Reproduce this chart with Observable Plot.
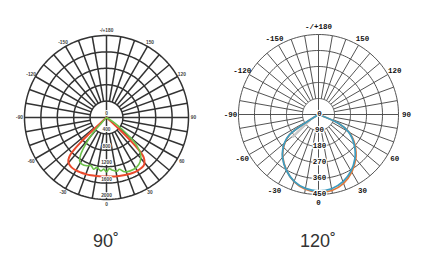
<!DOCTYPE html>
<html><head><meta charset="utf-8">
<script src="https://cdn.jsdelivr.net/npm/d3@7"></script>
<script src="https://cdn.jsdelivr.net/npm/@observablehq/plot@0.6"></script>
<style>
body{margin:0;background:#fff;}
#wrap{display:flex;width:424px;}
.panel{width:212px;}
.panel svg{display:block;}
.cap{font-family:"Liberation Sans",Arial,sans-serif;font-size:18px;line-height:18px;color:#333;text-align:center;height:25px;}
</style></head><body>
<div id="wrap"><div class="panel" id="p1"></div><div class="panel" id="p2"></div></div>
<script>
// ---- data ----
const angleTicks = [180,150,120,90,60,30,0,-30,-60,-90,-120,-150];
const angleLabels = ["-/+180","150","120","90","60","30","0","-30","-60","-90","-120","-150"];

const ringsA = [400,800,1200,1600,2000];
const ringLabelsA = ["0","400","800","1200","1600","2000"];
const ringsB = [90,180,270,360,450];
const ringLabelsB = ["0","90","180","270","360","450"];

const captions = ["90˚","120˚"];

// chart 1 (90°) : red and green curves, cd
const redAngles = [-60,-50,-48,-47,-46,-45,-44,-42,-40,-38,-35,-30,-25,-20,-15,-10,-5,0,5,10,15,20,25,30,35,38,40,43,45,46,47,48,50,60];
const redValues = [0,0,150,450,900,1150,1280,1390,1440,1465,1485,1490,1480,1470,1460,1450,1445,1440,1445,1455,1465,1480,1495,1500,1495,1480,1440,1330,1100,850,450,150,0,0];

const greenAngles = [-50,-45,-42,-41,-38,-35,-32,-28,-22,-18,-14,-11,-6,-3,0,3,6,11,14,18,24,31,37,43,47,50,53,56,60];
const greenValues = [0,60,220,540,830,1090,1240,1285,1270,1230,1300,1240,1310,1260,1325,1250,1285,1335,1300,1390,1425,1420,1360,1220,1015,760,475,215,0];

// chart 2 (120°) : teal, orange and grey curves, cd
const tealAngles = [-62,-55,-50,-45,-40,-30,-20,-10,0,10,20,30,40,45,50,55,60,66,72];
const tealValues = [0,200,250,285,315,362,400,422,430,424,402,366,320,292,262,230,195,125,0];
const orangeAngles = [-62,-55,-50,-45,-40,-30,-20,-10,0,10,20,30,40,45,50,55,60,66,72];
const orangeValues = [0,196,246,282,313,361,402,427,436,434,412,374,326,298,268,236,198,127,0];
const greyAngles = [-57,-49];
const greyValues = [58,190];

// ---- helpers ----
const rad = a => a*Math.PI/180;
const px = (a,v) => v*Math.sin(rad(a));
const py = (a,v) => -v*Math.cos(rad(a));
const pts = (angles, values) => angles.map((a,i)=>({x:px(a,values[i]), y:py(a,values[i])}));

function chart(o){
  const W=212, H=232, cx=106;
  const k = o.rmax/o.R;
  const circ = [];
  o.rings.forEach((r,i)=>{ for(let a=0;a<=360;a+=2) circ.push({x:px(a,r),y:py(a,r),ring:i}); });
  const spokes = [];
  for(let a=0;a<360;a+=10){
    const r0 = a%90===0 ? 0 : o.rings[0];
    spokes.push({x1:px(a,r0),y1:py(a,r0),x2:px(a,o.rmax),y2:py(a,o.rmax)});
  }
  const lr = o.rmax*(o.R+o.labelGap)/o.R;
  const aLab = angleTicks.map((a,i)=>({x:px(a,lr),y:py(a,lr),t:angleLabels[i]}));
  const rLab = [0,...o.rings].map((r,i)=>({x:0,y:-r,t:o.ringLabels[i]}));
  const marks = [
    Plot.line(circ,{x:"x",y:"y",z:"ring",stroke:o.grid,strokeWidth:o.gw}),
    Plot.link(spokes,{x1:"x1",y1:"y1",x2:"x2",y2:"y2",stroke:o.grid,strokeWidth:o.gw}),
  ];
  o.series.forEach(s=>marks.push(Plot.line(pts(s.a,s.v),{x:"x",y:"y",stroke:s.c,strokeWidth:s.w,curve:"catmull-rom"})));
  marks.push(Plot.text(rLab,{x:"x",y:"y",text:"t",dx:o.rdx,dy:o.rdy,fontFamily:o.font,fontSize:o.fs,fontWeight:"bold",fill:o.tc,stroke:"white",strokeWidth:o.halo}));
  marks.push(Plot.text(aLab,{x:"x",y:"y",text:"t",fontFamily:o.font,fontSize:o.fs,fontWeight:"bold",fill:o.tc}));
  return Plot.plot({
    width:W,height:H,margin:0,
    x:{type:"linear",domain:[-cx*k,(W-cx)*k],range:[0,W],axis:null},
    y:{type:"linear",domain:[-(H-o.cy)*k,o.cy*k],range:[H,0],axis:null},
    style:{background:"white",overflow:"visible"},
    marks
  });
}

const c1 = chart({rings:ringsA,ringLabels:ringLabelsA,rmax:2000,R:82,cy:117,grid:"#333",gw:1.5,
  font:"Liberation Sans",fs:4.8,tc:"#444",halo:2,rdx:0,rdy:-4,labelGap:5,
  series:[{a:redAngles,v:redValues,c:"#ea4a2c",w:2},{a:greenAngles,v:greenValues,c:"#6cc24a",w:1.6}]});
const c2 = chart({rings:ringsB,ringLabels:ringLabelsB,rmax:450,R:80,cy:114,grid:"#4a4a4a",gw:0.95,
  font:"Liberation Mono",fs:7.5,tc:"#111",halo:2.5,rdx:1,rdy:-1,labelGap:8,
  series:[{a:greyAngles,v:greyValues,c:"#c8c8c8",w:2.5},{a:orangeAngles,v:orangeValues,c:"#e2783a",w:1.8},{a:tealAngles,v:tealValues,c:"#3d9cc0",w:1.8}]});

[c1,c2].forEach((c,i)=>{
  const p = document.getElementById(i?"p2":"p1");
  p.appendChild(c);
  const d = document.createElement("div"); d.className="cap"; d.textContent=captions[i]; p.appendChild(d);
});
</script>
</body></html>
